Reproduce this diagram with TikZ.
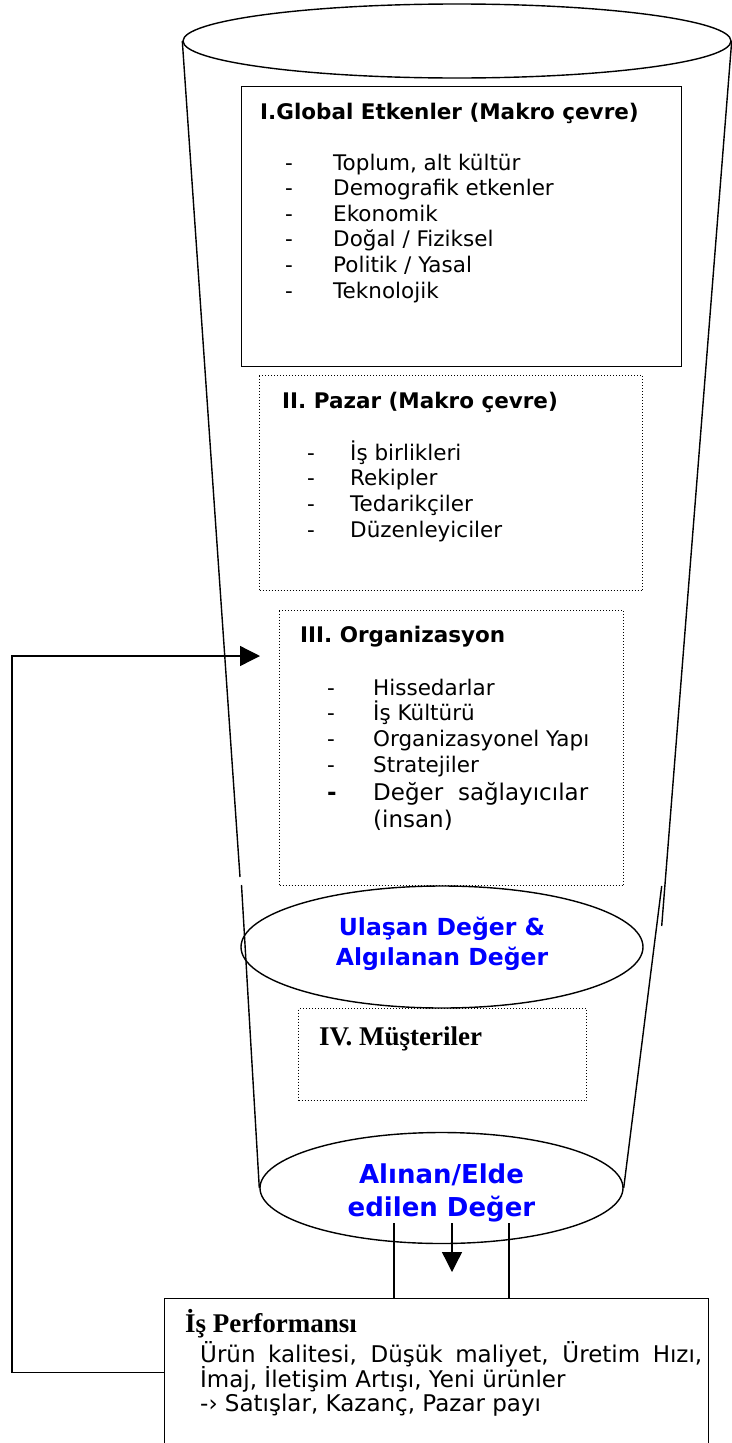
\documentclass[tikz,border=0pt]{standalone}
\usepackage{fontspec}
\setmainfont{DejaVu Sans}
\newfontfamily\rmserif{Liberation Serif}
\usetikzlibrary{shapes.geometric,arrows.meta}

\tikzset{
  cup/.style={line width=1.4pt},
  plainbox/.style={draw, line width=1pt, inner sep=0pt, anchor=north west},
  dotbox/.style={plainbox, dotted},
  oval/.style={draw, ellipse, line width=1.4pt, inner sep=0pt},
  body/.style={inner sep=0pt, anchor=base west, font=\fontsize{21.5}{25}\selectfont},
  bigbody/.style={body, font=\fontsize{23}{27}\selectfont},
  head/.style={body, font=\fontsize{21.5}{25}\selectfont\bfseries},
  serifhead/.style={body, font=\fontsize{27}{31}\selectfont\rmserif\bfseries},
  bluetxt/.style={inner sep=0pt, anchor=base, text=blue, font=\fontsize{23.5}{28}\selectfont\bfseries},
  bigblue/.style={bluetxt, font=\fontsize{26}{31}\selectfont\bfseries},
  link/.style={line width=1.3pt},
  tip/.style={-{Triangle[length=20pt,width=20pt]}}
}

\begin{document}
\begin{tikzpicture}[x=1pt,y=-1pt]
\useasboundingbox (0,0) rectangle (731,1443);

% the cup: rim, base and the two slanted walls
\node[oval, minimum width=548pt, minimum height=74pt] (rim) at (457,41) {};
\node[oval, minimum width=363pt, minimum height=111pt] (base) at (441.5,1188) {};
\coordinate (lbreakA) at (240,877);
\coordinate (lbreakB) at (241.5,885);
\coordinate (rbreakA) at (661.7,926);
\coordinate (rbreakB) at (661.7,886);
\draw[cup] (rim.west) -- (lbreakA);
\draw[cup] (lbreakB) -- (base.west);
\draw[cup] (rim.east) -- (rbreakA);
\draw[cup] (rbreakB) -- (base.east);

% I. global factors
\node[plainbox, minimum width=440pt, minimum height=280pt] (global) at (241,86) {};
\node[head] (globalT) at (260,119) {I.Global Etkenler (Makro çevre)};
\foreach \t [count=\i from 0] in {{Toplum, alt kültür},{Demografik etkenler},{Ekonomik},{Doğal / Fiziksel},{Politik / Yasal},{Teknolojik}} {
  \node[body] (gd\i) at (285,{170+25.6*\i}) {-};
  \node[body] (gi\i) at (333,{170+25.6*\i}) {\t};
}

% II. market
\node[dotbox, minimum width=383pt, minimum height=215pt] (market) at (259,375) {};
\node[head] (marketT) at (282,408) {II. Pazar (Makro çevre)};
\foreach \t [count=\i from 0] in {{İş birlikleri},{Rekipler},{Tedarikçiler},{Düzenleyiciler}} {
  \node[body] (md\i) at (307,{460+25.7*\i}) {-};
  \node[body] (mi\i) at (350,{460+25.7*\i}) {\t};
}

% III. organisation
\node[dotbox, minimum width=344pt, minimum height=275pt] (org) at (279,610) {};
\node[head] (orgT) at (300,642) {III. Organizasyon};
\foreach \t [count=\i from 0] in {{Hissedarlar},{İş Kültürü},{Organizasyonel Yapı},{Stratejiler}} {
  \node[body] (od\i) at (327,{695+25.7*\i}) {-};
  \node[body] (oi\i) at (373,{695+25.7*\i}) {\t};
}
\node[bigbody, font=\fontsize{23}{27}\selectfont\bfseries] (od4) at (327,800) {-};
\node[bigbody] (oi4) at (373,800) {\makebox[215pt][s]{Değer sağlayıcılar}};
\node[bigbody] (oi5) at (373,827) {(insan)};

% delivered and perceived value
\node[oval, minimum width=402pt, minimum height=122pt] (delivered) at (442,947) {};
\node[bluetxt] (deliveredA) at (442,935) {Ulaşan Değer \&};
\node[bluetxt] (deliveredB) at (442,965) {Algılanan Değer};

% IV. customers
\node[dotbox, minimum width=288pt, minimum height=92pt] (cust) at (298,1008) {};
\node[serifhead] (custT) at (319,1045) {IV. Müşteriler};

% value received, written on the base of the cup
\node[bigblue] (baseA) at (441.5,1183) {Alınan/Elde};
\node[bigblue] (baseB) at (441.5,1216) {edilen Değer};

% business performance
\node[plainbox, minimum width=544pt, minimum height=148pt] (perf) at (164,1298) {};
\node[serifhead] (perfT) at (185,1332) {İş Performansı};
\node[bigbody] (perfA) at (200,1362) {\makebox[502pt][s]{Ürün kalitesi, Düşük maliyet, Üretim Hızı,}};
\node[bigbody] (perfB) at (200,1387) {İmaj, İletişim Artışı, Yeni ürünler};
\node[bigbody] (perfC) at (200,1411) {-› Satışlar, Kazanç, Pazar payı};

% stems and arrow from the base down to the performance box
\coordinate (stemL) at (394,1223);
\coordinate (stemR) at (509,1223);
\draw[link] (stemL) -- (stemL |- perf.north);
\draw[link] (stemR) -- (stemR |- perf.north);
\coordinate (flowTop) at (452,1223);
\coordinate (flowTip) at (452,1272);
\draw[link, tip] (flowTop) -- (flowTip);

% feedback loop back into the organisation
\coordinate (fbTip) at (260,656);
\draw[link, tip] (perf.west) -- ++(-152,0) |- (fbTip);
\end{tikzpicture}
\end{document}
